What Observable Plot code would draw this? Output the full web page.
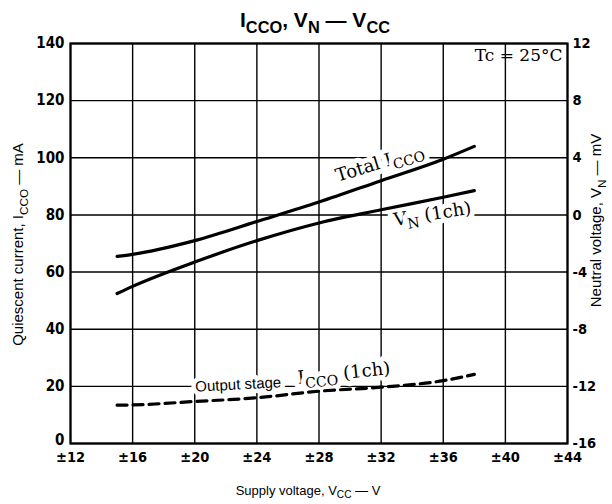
<!DOCTYPE html>
<html><head><meta charset="utf-8">
<script src="https://cdn.jsdelivr.net/npm/d3@7"></script>
<script src="https://cdn.jsdelivr.net/npm/@observablehq/plot@0.6"></script>
<style>
body{margin:0;background:#fff}
#chart svg{display:block}
</style></head><body><div id="chart"></div>
<script>
// Data
const vcc        = [15, 16, 20, 24, 28, 32, 36, 38];          // supply voltage ±V
const totalIcco  = [65.5, 66.2, 71, 77.7, 84.5, 92, 99.5, 104]; // mA
const vnMv       = [-5.5, -5.0, -3.3, -1.8, -0.56, 0.36, 1.24, 1.7]; // mV
const outputIcco = [13.4, 13.5, 14.7, 16, 18.3, 19.7, 22, 24.2]; // mA
const xTicks  = [12, 16, 20, 24, 28, 32, 36, 40, 44];
const yTicks  = [0, 20, 40, 60, 80, 100, 120, 140];
const mvTicks = [-16, -12, -8, -4, 0, 4, 8, 12];

// right axis relation: mV ↔ mA position (0 mV at 80 mA, 4 mV per 20 mA)
const mvToMa = mv => 80 + 5 * mv;

const rows = vcc.map((v, i) => ({v, total: totalIcco[i], vn: mvToMa(vnMv[i]), out: outputIcco[i]}));

const annotations = [
  {text: "Total I_{CCO}", x: 31.9, y: 98.2, rotate: -17, font: "serif"},
  {text: "V_{N} (1ch)", x: 35.3, y: 80.3, rotate: -9, font: "serif"},
  {text: "Output stage", x: 22.8, y: 20.6, rotate: -3, font: "sans"},
  {text: "I_{CCO} (1ch)", x: 29.6, y: 24.6, rotate: -6, font: "serif"}
];

const tickFont = "'Liberation Sans Narrow', 'DejaVu Sans Condensed', 'Liberation Sans', sans-serif";
const sansFont = "'Liberation Sans', Arial, sans-serif";
const serifFont = "'DejaVu Serif', 'Liberation Serif', serif";
const tickStyle = {tickSize: 0, fontWeight: "bold", fontFamily: tickFont, label: null};

const plot = Plot.plot({
  width: 612, height: 504,
  marginLeft: 70, marginRight: 45, marginTop: 43, marginBottom: 61,
  style: {background: "white", color: "black", fontFamily: sansFont},
  x: {domain: [12, 44]},
  y: {domain: [0, 140]},
  marks: [
    Plot.gridX(xTicks, {stroke: "black", strokeOpacity: 1, strokeWidth: 1.4}),
    Plot.gridY(yTicks, {stroke: "black", strokeOpacity: 1, strokeWidth: 1.4}),
    Plot.frame({stroke: "black", strokeWidth: 2.2}),
    Plot.axisX(xTicks, {...tickStyle, tickPadding: 8, tickFormat: d => "±" + d, fontSize: 14.5}),
    Plot.axisY(yTicks.filter(d => d > 0), {...tickStyle, anchor: "left", tickPadding: 6, tickFormat: d => String(d), fontSize: 15}),
    Plot.axisY(yTicks.filter(d => d === 0), {...tickStyle, anchor: "left", tickPadding: 6, dy: -3, tickFormat: d => String(d), fontSize: 15}),
    Plot.axisY(yTicks, {...tickStyle, anchor: "right", tickPadding: 5, tickFormat: (d) => String(mvTicks[yTicks.indexOf(d)]), fontSize: 14.5}),
    // curve labels (white halo interrupts the grid, curves are drawn on top)
    Plot.text(annotations.filter(d => d.font === "serif"), {x: "x", y: "y", text: "text", rotate: "rotate", fontSize: 18, fontFamily: serifFont, fill: "black", stroke: "white", strokeWidth: 10, className: "sub"}),
    Plot.text(annotations.filter(d => d.font === "sans"), {x: "x", y: "y", text: "text", rotate: "rotate", fontSize: 15, fontFamily: sansFont, fill: "black", stroke: "white", strokeWidth: 9, className: "sub"}),
    Plot.line(rows, {x: "v", y: "total", stroke: "black", strokeWidth: 3.2, curve: "monotone-x"}),
    Plot.line(rows, {x: "v", y: "vn", stroke: "black", strokeWidth: 3.2, curve: "monotone-x"}),
    Plot.line(rows, {x: "v", y: "out", stroke: "black", strokeWidth: 3.2, strokeDasharray: "10,6", curve: "monotone-x"}),
    Plot.text(["Tc = 25°C"], {frameAnchor: "top-right", dx: -5, dy: 5, lineAnchor: "top", textAnchor: "end", fontSize: 17, fontFamily: serifFont, fill: "black"}),
    // titles & axis labels
    Plot.text(["I_{CCO}, V_{N} — V_{CC}"], {frameAnchor: "top", dx: -4, dy: -23, lineAnchor: "middle", textAnchor: "middle", fontSize: 21, fontWeight: "bold", fontFamily: sansFont, className: "sub"}),
    Plot.text(["Supply voltage, V_{CC} — V"], {frameAnchor: "bottom", dx: -11, dy: 47, lineAnchor: "middle", textAnchor: "middle", fontSize: 13, fontFamily: sansFont, className: "sub"}),
    Plot.text(["Quiescent current, I_{CCO} — mA"], {frameAnchor: "left", dx: -52, dy: 1, rotate: -90, lineAnchor: "middle", textAnchor: "middle", fontSize: 15, fontFamily: sansFont, className: "sub"}),
    Plot.text(["Neutral voltage, V_{N} — mV"], {frameAnchor: "right", dx: 29, dy: -23, rotate: -90, lineAnchor: "middle", textAnchor: "middle", fontSize: 15, fontFamily: sansFont, className: "sub"})
  ]
});

document.getElementById("chart").appendChild(plot);

// render "_{...}" as subscripts
plot.querySelectorAll("g.sub text").forEach(t => {
  const s = t.textContent;
  if (!s.includes("_{")) return;
  const fs = parseFloat(getComputedStyle(t).fontSize) || 14;
  const shift = fs * 0.28;
  while (t.firstChild) t.removeChild(t.firstChild);
  const re = /_\{([^}]*)\}/g;
  let last = 0, m, shifted = false;
  const add = (str, sub) => {
    if (!str) return;
    const ts = document.createElementNS("http://www.w3.org/2000/svg", "tspan");
    ts.textContent = str;
    if (sub && !shifted) { ts.setAttribute("dy", shift); shifted = true; }
    if (!sub && shifted) { ts.setAttribute("dy", -shift); shifted = false; }
    if (sub) ts.setAttribute("font-size", fs * 0.78);
    t.appendChild(ts);
  };
  while ((m = re.exec(s))) {
    add(s.slice(last, m.index), false);
    add(m[1], true);
    last = re.lastIndex;
  }
  add(s.slice(last), false);
});
</script>
</body></html>
